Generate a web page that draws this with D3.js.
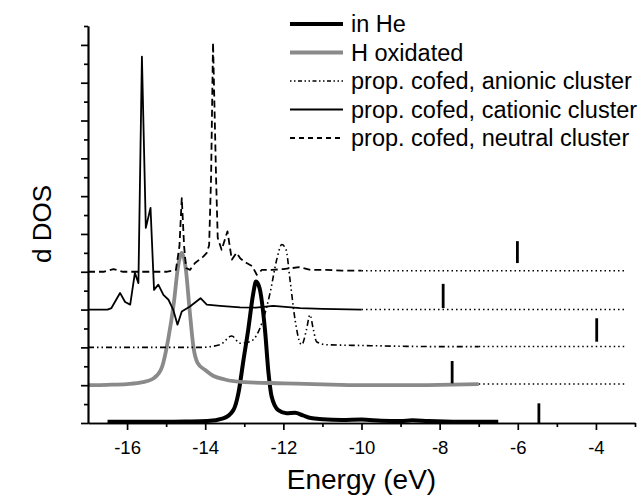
<!DOCTYPE html>
<html>
<head>
<meta charset="utf-8">
<script src="https://cdn.jsdelivr.net/npm/d3@7"></script>
<style>
  body { margin: 0; background: white; }
  svg { display: block; font-family: 'Liberation Sans', Arial, sans-serif; }
</style>
</head>
<body>
<script>
// energy (eV), dos (offset per curve)
const inHe = [
  [-16.5, 0.03], [-15.5, 0.03], [-14.5, 0.04], [-13.95, 0.05], [-13.54, 0.12],
  [-13.28, 0.34], [-13.15, 0.79], [-13.02, 1.67], [-12.9, 2.46], [-12.77, 3.43],
  [-12.7, 3.74], [-12.61, 3.57], [-12.47, 2.46], [-12.38, 1.32], [-12.3, 0.7],
  [-12.13, 0.34], [-11.92, 0.26], [-11.7, 0.27], [-11.5, 0.2], [-11.3, 0.13],
  [-11.0, 0.1], [-10.5, 0.08], [-10.0, 0.09], [-9.5, 0.06], [-9.0, 0.05],
  [-8.7, 0.07], [-8.3, 0.05], [-7.5, 0.03], [-6.5, 0.03]
];

const hOxidated = [
  [-17, 1.0], [-16.5, 1.01], [-16, 1.03], [-15.6, 1.08], [-15.3, 1.2],
  [-15.1, 1.5], [-14.95, 2.2], [-14.8, 3.2], [-14.7, 4.1], [-14.6, 4.5],
  [-14.5, 4.1], [-14.4, 3.0], [-14.3, 2.0], [-14.2, 1.6], [-14.0, 1.4],
  [-13.8, 1.25], [-13.5, 1.15], [-13.0, 1.08], [-12.0, 1.05], [-11.0, 1.02],
  [-10.0, 1.0], [-9.0, 1.0], [-8.0, 1.01], [-7.0, 1.03]
];

const anionic = [
  [-17, 2.0], [-15, 2.0], [-14.13, 2.0], [-13.62, 2.07], [-13.32, 2.3],
  [-13.11, 2.11], [-12.85, 2.15], [-12.55, 2.64], [-12.34, 3.44], [-12.17, 4.32],
  [-12.04, 4.72], [-11.93, 4.58], [-11.83, 3.79], [-11.7, 2.73], [-11.57, 2.11],
  [-11.53, 2.07], [-11.41, 2.46], [-11.32, 2.86], [-11.23, 2.46], [-11.15, 2.15],
  [-10.9, 2.07], [-10.0, 2.05], [-9.0, 2.03], [-8.0, 2.02], [-7.0, 2.02]
];

const cationic = [
  [-17, 3.0], [-16.5, 3.0], [-16.4, 3.04], [-16.18, 3.44], [-16.05, 3.2],
  [-15.92, 3.13], [-15.8, 3.97], [-15.71, 3.7], [-15.62, 9.69], [-15.52, 5.16],
  [-15.4, 5.69], [-15.31, 3.52], [-15.2, 3.66], [-15.07, 3.39], [-14.94, 3.26],
  [-14.82, 3.0], [-14.71, 2.6], [-14.6, 2.95], [-14.39, 3.08], [-14.12, 3.3],
  [-13.96, 3.13], [-13.62, 3.1], [-13.11, 3.06], [-12.7, 3.05], [-12.26, 3.1],
  [-11.57, 3.04], [-11.0, 3.02], [-10.0, 3.0]
];

const neutral = [
  [-17, 4.0], [-16.6, 4.0], [-16.35, 4.07], [-16.1, 4.0], [-15.0, 4.0],
  [-14.75, 4.05], [-14.66, 4.67], [-14.6, 5.95], [-14.54, 4.67], [-14.49, 4.1],
  [-14.39, 4.05], [-14.26, 4.23], [-14.05, 4.4], [-13.96, 4.5], [-13.9, 4.7],
  [-13.85, 6.5], [-13.8, 10.06], [-13.72, 6.4], [-13.68, 4.9], [-13.58, 4.58],
  [-13.43, 5.07], [-13.32, 4.32], [-13.2, 4.5], [-13.1, 4.35], [-12.94, 4.23],
  [-12.8, 4.15], [-12.68, 3.92], [-12.55, 4.05], [-12.3, 4.05], [-12.0, 4.07],
  [-11.6, 4.12], [-11.3, 4.05], [-10.9, 4.05], [-10.5, 4.03], [-10.0, 4.03]
];

const labels = ['in He', 'H oxidated', 'prop. cofed, anionic cluster',
  'prop. cofed, cationic cluster', 'prop. cofed, neutral cluster'];

// short vertical marks: energy, bottom, top
const markEnergy = [-5.46, -7.68, -3.98, -7.91, -6.01];
const markBottom = [0.0, 1.05, 2.15, 3.04, 4.23];
const markTop = [0.52, 1.64, 2.77, 3.68, 4.81];

const dottedEnd = -3.25;
const xMajor = [-16, -14, -12, -10, -8, -6, -4];
const xMinor = [-15, -13, -11, -9, -7, -5, -3];
const yMajor = d3.range(0, 11, 1);
const yMinor = d3.range(0.5, 11, 1);

const width = 643;
const height = 498;

const svg = d3.select('body')
  .append('svg')
  .attr('width', width)
  .attr('height', height);

const x = d3.scaleLinear()
  .domain([-17, -3])
  .range([88, 635]);

const y = d3.scaleLinear()
  .domain([0, 10.5])
  .range([423, 26]);

const series = [
  { data: inHe, color: '#000', width: 4, dash: null, legendDash: null, curve: d3.curveMonotoneX, dotted: false },
  { data: hOxidated, color: '#8a8a8a', width: 3.8, dash: null, legendDash: null, curve: d3.curveMonotoneX, dotted: true },
  { data: anionic, color: '#000', width: 1.6, dash: '6,3,1.5,3,1.5,3', legendDash: '1.5,2.5,1.5,2.5,4,2.5', curve: d3.curveMonotoneX, dotted: true },
  { data: cationic, color: '#000', width: 1.8, dash: null, legendDash: null, curve: d3.curveLinear, dotted: true },
  { data: neutral, color: '#000', width: 1.8, dash: '7,4', legendDash: '5,4', curve: d3.curveLinear, dotted: true }
];

// dotted continuation to the right
series.filter(s => s.dotted).forEach(s => {
  const last = s.data[s.data.length - 1];
  svg.append('line')
    .attr('x1', x(last[0]))
    .attr('x2', x(dottedEnd))
    .attr('y1', y(last[1]))
    .attr('y2', y(last[1]))
    .attr('stroke', '#000')
    .attr('stroke-width', 1.5)
    .attr('stroke-dasharray', '1.5,3');
});

series.forEach(s => {
  const line = d3.line()
    .x(d => x(d[0]))
    .y(d => y(d[1]))
    .curve(s.curve);

  svg.append('path')
    .datum(s.data)
    .attr('d', line)
    .attr('fill', 'none')
    .attr('stroke', s.color)
    .attr('stroke-width', s.width)
    .attr('stroke-dasharray', s.dash)
    .attr('stroke-linejoin', 'round');
});

svg.selectAll('.mark')
  .data(markEnergy)
  .join('line')
  .attr('class', 'mark')
  .attr('x1', d => x(d))
  .attr('x2', d => x(d))
  .attr('y1', (d, i) => y(markBottom[i]))
  .attr('y2', (d, i) => y(markTop[i]))
  .attr('stroke', '#000')
  .attr('stroke-width', 2.8);

// axes
const styleAxis = (g) => {
  g.selectAll('path').attr('stroke', '#000').attr('stroke-width', 1.7);
  g.selectAll('line').attr('stroke', '#000').attr('stroke-width', 1.7);
};

svg.append('g')
  .attr('transform', `translate(0, ${y(0)})`)
  .call(d3.axisBottom(x).tickValues(xMinor).tickSize(4).tickSizeOuter(0).tickFormat(''))
  .call(styleAxis);

svg.append('g')
  .attr('transform', `translate(0, ${y(0)})`)
  .call(d3.axisBottom(x).tickValues(xMajor).tickSize(7).tickSizeOuter(0).tickFormat(d => d).tickPadding(11))
  .call(styleAxis)
  .selectAll('text')
  .attr('font-size', 18.5)
  .attr('font-family', "'Liberation Sans', Arial, sans-serif")
  .attr('fill', '#000');

svg.append('g')
  .attr('transform', `translate(${x(-17)}, 0)`)
  .call(d3.axisLeft(y).tickValues(yMinor).tickSize(4).tickSizeOuter(0).tickFormat(''))
  .call(styleAxis);

svg.append('g')
  .attr('transform', `translate(${x(-17)}, 0)`)
  .call(d3.axisLeft(y).tickValues(yMajor).tickSize(7).tickSizeOuter(0).tickFormat(''))
  .call(styleAxis);

svg.append('text')
  .attr('x', (x.range()[0] + x.range()[1]) / 2)
  .attr('y', 489)
  .attr('font-size', 28)
  .attr('text-anchor', 'middle')
  .text('Energy (eV)');

svg.append('text')
  .attr('transform', 'rotate(-90)')
  .attr('x', -224)
  .attr('y', 51)
  .attr('font-size', 26)
  .attr('text-anchor', 'middle')
  .text('d DOS');

// legend
const legend = svg.append('g');
const rowY = (i) => 24 + i * 28.5;

series.forEach((s, i) => {
  legend.append('line')
    .attr('x1', 290)
    .attr('x2', 343)
    .attr('y1', rowY(i))
    .attr('y2', rowY(i))
    .attr('stroke', s.color)
    .attr('stroke-width', s.width)
    .attr('stroke-dasharray', s.legendDash);

  legend.append('text')
    .attr('x', 351)
    .attr('y', rowY(i) + 8)
    .attr('font-size', 23.5)
    .text(labels[i]);
});
</script>
</body>
</html>
